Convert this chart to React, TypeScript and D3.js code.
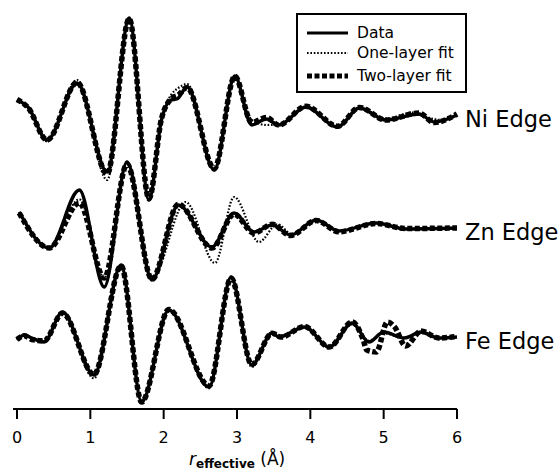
import React from 'react';
import * as d3 from 'd3';

// r (Å), amplitude (arbitrary units)
const niData: [number, number][] = [
  [0, 0.6], [0.15, 0.32], [0.41, -1.0], [0.82, 1.28], [1.23, -2.28], [1.53, 3.88],
  [1.8, -3.4], [1.97, -0.2], [2.1, 0.6], [2.18, 0.64], [2.32, 1.12], [2.69, -2.2],
  [2.97, 1.56], [3.2, -0.4], [3.4, -0.16], [3.57, -0.4], [3.94, 0.32], [4.37, -0.48],
  [4.67, 0.28], [5.03, -0.2], [5.48, 0.04], [5.69, -0.28], [6, 0],
];
const niOneLayer: [number, number][] = [
  [0, 0.6], [0.15, 0.3], [0.41, -1.05], [0.82, 1.4], [1.23, -2.6], [1.53, 3.88],
  [1.8, -3.3], [1.97, -0.1], [2.1, 0.8], [2.2, 1.08], [2.32, 1.24], [2.69, -2.15],
  [2.97, 1.5], [3.2, -0.2], [3.4, -0.4], [3.6, -0.35], [3.94, 0.3], [4.37, -0.45],
  [4.67, 0.3], [5.03, -0.15], [5.4, 0.1], [5.62, -0.12], [5.8, -0.2], [6, 0.02],
];
const niTwoLayer: [number, number][] = [
  [0, 0.62], [0.15, 0.3], [0.41, -1.0], [0.82, 1.3], [1.23, -2.35], [1.53, 3.85],
  [1.8, -3.35], [1.97, -0.15], [2.1, 0.64], [2.2, 0.8], [2.32, 1.1], [2.69, -2.15],
  [2.97, 1.55], [3.2, -0.3], [3.4, -0.1], [3.57, -0.4], [3.94, 0.35], [4.37, -0.45],
  [4.67, 0.3], [5.03, -0.2], [5.48, 0.08], [5.69, -0.3], [6, 0.04],
];

const znData: [number, number][] = [
  [0.03, 0.64], [0.44, -0.8], [0.85, 1.52], [1.19, -2.36], [1.5, 2.64], [1.84, -2.08],
  [2.2, 0.92], [2.66, -0.76], [2.96, 0.6], [3.23, -0.16], [3.48, 0.12], [3.73, -0.28],
  [4.08, 0.32], [4.39, -0.12], [4.9, 0.2], [5.3, -0.04], [6, 0],
];
const znOneLayer: [number, number][] = [
  [0.03, 0.64], [0.44, -0.75], [0.85, 1.15], [1.19, -2.0], [1.5, 2.6], [1.84, -2.0],
  [2.3, 1.04], [2.7, -1.4], [2.96, 1.24], [3.3, -0.56], [3.55, 0.15], [3.75, -0.25],
  [4.08, 0.3], [4.39, -0.1], [4.9, 0.18], [5.3, -0.02], [6, 0],
];
const znTwoLayer: [number, number][] = [
  [0.03, 0.6], [0.44, -0.8], [0.85, 1.0], [1.19, -2.0], [1.5, 2.55], [1.84, -2.05],
  [2.2, 0.95], [2.66, -0.8], [2.96, 0.55], [3.23, -0.2], [3.48, 0.15], [3.73, -0.3],
  [4.08, 0.3], [4.39, -0.15], [4.9, 0.18], [5.3, -0.02], [6, 0],
];

const feData: [number, number][] = [
  [0, -0.12], [0.1, 0.08], [0.2, -0.04], [0.37, -0.2], [0.62, 1.0], [1.05, -1.52],
  [1.42, 2.88], [1.7, -2.6], [2.07, 1.08], [2.62, -2.0], [2.92, 2.4], [3.2, -1.12],
  [3.48, 0.16], [3.57, 0], [3.92, 0.4], [4.26, -0.4], [4.57, 0.56], [4.8, -0.2],
  [5.0, 0.2], [5.28, -0.04], [5.51, 0.2], [5.75, -0.04], [6, 0],
];
const feOneLayer: [number, number][] = [
  [0, -0.1], [0.1, 0.1], [0.2, -0.05], [0.37, -0.15], [0.62, 0.95], [1.05, -1.65],
  [1.42, 2.8], [1.7, -2.55], [2.07, 1.05], [2.62, -2.05], [2.92, 2.3], [3.2, -1.2],
  [3.48, 0.2], [3.6, 0.05], [3.92, 0.38], [4.26, -0.38], [4.57, 0.5], [4.8, -0.15],
  [5.0, 0.15], [5.28, -0.05], [5.51, 0.15], [5.75, -0.05], [6, 0],
];
const feTwoLayer: [number, number][] = [
  [0, -0.1], [0.1, 0.05], [0.2, -0.1], [0.37, -0.15], [0.62, 0.95], [1.05, -1.5],
  [1.42, 2.85], [1.7, -2.6], [2.07, 1.1], [2.62, -1.95], [2.92, 2.35], [3.2, -1.1],
  [3.48, 0.15], [3.6, 0], [3.92, 0.42], [4.26, -0.4], [4.57, 0.6], [4.72, -0.1],
  [4.77, -0.52], [4.9, -0.6], [5.05, 0.6], [5.15, 0.4], [5.3, -0.36], [5.51, 0.24],
  [5.75, -0.04], [6, 0.02],
];

const edgeNames = ['Ni Edge', 'Zn Edge', 'Fe Edge'];
const edgeOffsets = [0, -4.52, -8.88];
const xTicks = [0, 1, 2, 3, 4, 5, 6];
const legendLabels = ['Data', 'One-layer fit', 'Two-layer fit'];

const width = 559;
const height = 472;
const font = '"DejaVu Sans", Verdana, sans-serif';

const styles = [
  { stroke: '#000', strokeWidth: 3.4, dash: undefined as string | undefined },
  { stroke: '#000', strokeWidth: 2.2, dash: '1.6 1.8' },
  { stroke: '#000', strokeWidth: 5.5, dash: '5 2.5' },
];

export default function App() {
  const x = d3.scaleLinear().domain([0, 6]).range([17, 457]);
  const y = d3.scaleLinear().domain([-12, 4]).range([415, 15]);

  const edges = [
    [niData, niOneLayer, niTwoLayer],
    [znData, znOneLayer, znTwoLayer],
    [feData, feOneLayer, feTwoLayer],
  ];

  // draw order: two-layer under, data, dotted on top
  const order = [2, 0, 1];

  return (
    <svg
      width={width}
      height={height}
      style={{ position: 'absolute', left: 0, top: 0, background: '#fff' }}
      fontFamily={font}
    >
      {edges.map((series, i) => {
        const off = edgeOffsets[i];
        const line = d3
          .line<[number, number]>()
          .x(d => x(d[0]))
          .y(d => y(d[1] + off))
          .curve(d3.curveMonotoneX);
        return (
          <g key={edgeNames[i]}>
            {order.map(k => (
              <path
                key={k}
                d={line(series[k]) || ''}
                fill="none"
                stroke={styles[k].stroke}
                strokeWidth={styles[k].strokeWidth}
                strokeDasharray={styles[k].dash}
                strokeLinejoin="round"
              />
            ))}
            <text x={465} y={y(off) + 12} fontSize={22.5} fill="#000">
              {edgeNames[i]}
            </text>
          </g>
        );
      })}

      {/* x axis */}
      <g>
        <line x1={13} x2={x(6)} y1={409} y2={409} stroke="#000" strokeWidth={2} />
        {xTicks.map(t => (
          <g key={t}>
            <line x1={x(t)} x2={x(t)} y1={409} y2={419} stroke="#000" strokeWidth={2} />
            <text x={x(t)} y={443} textAnchor="middle" fontSize={16} fill="#000">
              {t}
            </text>
          </g>
        ))}
        <text x={189} y={465} fontSize={17} fill="#000">
          <tspan fontStyle="italic">r</tspan>
          <tspan fontSize={12} fontWeight="bold" dy={3}>effective</tspan>
          <tspan dy={-3}> (Å)</tspan>
        </text>
      </g>

      {/* legend */}
      <g>
        <rect x={297} y={14} width={169} height={78} fill="#fff" stroke="#000" strokeWidth={2} />
        {legendLabels.map((lab, k) => {
          const ly = [33, 53, 76][k];
          return (
            <g key={lab}>
              <line
                x1={307}
                x2={348}
                y1={ly}
                y2={ly}
                stroke="#000"
                strokeWidth={k === 2 ? 5 : k === 0 ? 3 : 2}
                strokeDasharray={styles[k].dash}
              />
              <text x={357} y={ly + 5} fontSize={15.5} fill="#000">
                {lab}
              </text>
            </g>
          );
        })}
      </g>
    </svg>
  );
}
